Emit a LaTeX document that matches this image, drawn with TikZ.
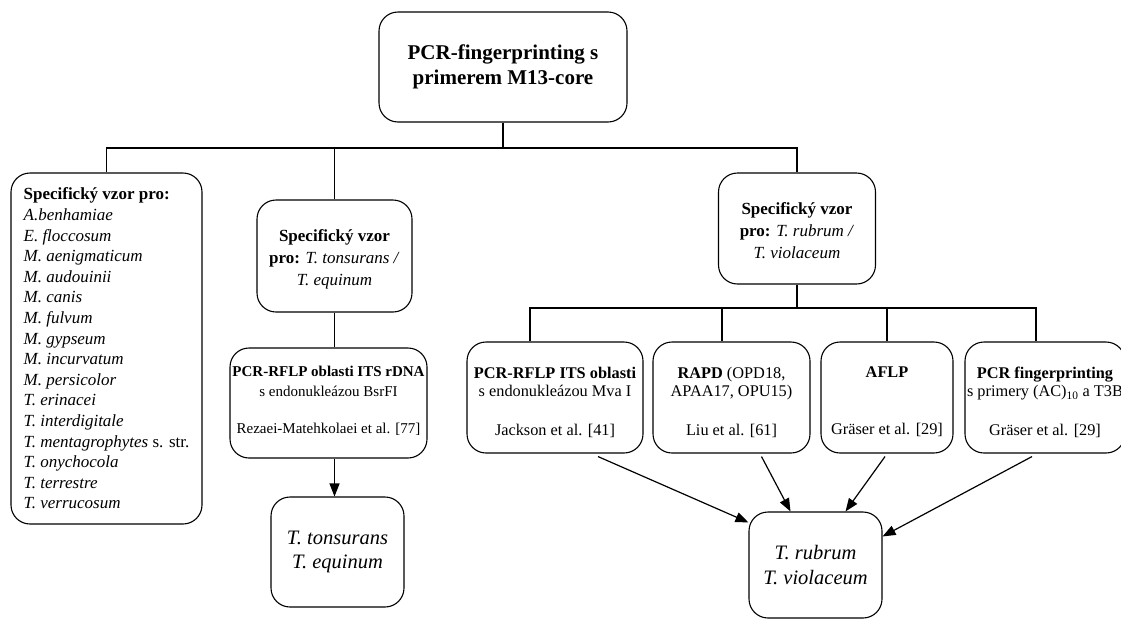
\documentclass[tikz,border=0pt]{standalone}
\usepackage{fontspec}
\setmainfont{Liberation Serif}
\usetikzlibrary{arrows.meta}
\begin{document}
\begin{tikzpicture}[x=1pt,y=-1pt,
  box/.style={draw, line width=1.1pt, rounded corners=19pt, inner sep=0pt, align=center},
  txt/.style={inner sep=0pt, align=center},
  conn/.style={line width=1.2pt},
  arr/.style={line width=1.2pt, -{Triangle[length=13pt,width=10pt]}}]
\useasboundingbox (0,0) rectangle (1121,619);

% top
\node[box, minimum width=248pt, minimum height=110pt, font=\fontsize{21}{25}\selectfont\bfseries] (top) at (503,67) {PCR-fingerprinting s\\primerem M13-core};

% left list
\node[box, minimum width=191pt, minimum height=351pt, align=left, font=\fontsize{17}{20.6}\selectfont] (left) at (106.5,348.5)
{\textbf{Specifický vzor pro:}\\
\textit{A.benhamiae}\\
\textit{E. floccosum}\\
\textit{M. aenigmaticum}\\
\textit{M. audouinii}\\
\textit{M. canis}\\
\textit{M. fulvum}\\
\textit{M. gypseum}\\
\textit{M. incurvatum}\\
\textit{M. persicolor}\\
\textit{T. erinacei}\\
\textit{T. interdigitale}\\
\textit{T. mentagrophytes} s. str.\\
\textit{T. onychocola}\\
\textit{T. terrestre}\\
\textit{T. verrucosum}};

% middle branch
\node[box, minimum width=155pt, minimum height=112pt] (mspec) at (334.5,256) {};
\node[txt, font=\fontsize{17}{22}\selectfont] (mspect) at (334.5,259)
{\textbf{Specifický vzor}\\\textbf{pro:} \textit{T. tonsurans /}\\\textit{T. equinum}};
\node[box, minimum width=197pt, minimum height=110pt] (mrflp) at (328.5,403) {};
\node[txt, anchor=north, font=\fontsize{15}{20}\selectfont] (mrflpt) at (328.5,366)
{\textbf{PCR-RFLP oblasti ITS rDNA}\\s endonukleázou BsrFI\\[17pt]Rezaei-Matehkolaei et al. [77]};
\node[box, minimum width=133pt, minimum height=110pt, font=\fontsize{20.5}{24}\selectfont\itshape] (tons) at (337.5,552)
{T. tonsurans\\T. equinum};

% right branch
\node[box, minimum width=157pt, minimum height=111pt] (rspec) at (797,228.5) {};
\node[txt, font=\fontsize{17}{22}\selectfont] (rspect) at (797,231)
{\textbf{Specifický vzor}\\\textbf{pro:} \textit{T. rubrum /}\\\textit{T. violaceum}};

\node[box, minimum width=176pt, minimum height=111pt] (b1) at (555,397.5) {};
\node[box, minimum width=157pt, minimum height=111pt] (b2) at (731.5,397.5) {};
\node[box, minimum width=132pt, minimum height=111pt] (b3) at (887,397.5) {};
\node[box, minimum width=160pt, minimum height=111pt] (b4) at (1045,397.5) {};

\node[txt, anchor=north, font=\fontsize{16.3}{18}\selectfont] (b1t) at (555,367)
{\textbf{PCR-RFLP ITS oblasti}\\s endonukleázou Mva I\\[21pt]Jackson et al. [41]};
\node[txt, anchor=north, font=\fontsize{16.3}{18}\selectfont] (b2t) at (731.5,367)
{\textbf{RAPD} (OPD18,\\APAA17, OPU15)\\[21pt]Liu et al. [61]};
\node[txt, anchor=north, font=\fontsize{16.3}{18}\selectfont] (b3t) at (887,367)
{\textbf{AFLP}\\[39pt]Gräser et al. [29]};
\node[txt, anchor=north, font=\fontsize{16.3}{18}\selectfont] (b4t) at (1045,367)
{\textbf{PCR fingerprinting}\\s primery (AC)\textsubscript{10} a T3B\\[21pt]Gräser et al. [29]};

\node[box, minimum width=133pt, minimum height=106pt, font=\fontsize{20.5}{25}\selectfont\itshape] (rubrum) at (815.5,565)
{T. rubrum\\T. violaceum};

% connectors
\coordinate (bus1) at (503,148);
\draw[conn] (top.south) -- (bus1);
\draw[conn] (left.north) |- (bus1) -| (rspec.north);
\draw[conn] (mspec.north) -- (mspec.north |- bus1);
\draw[conn] (mspec.south) -- (mspec.south |- mrflp.north);
\draw[arr] (mspec.south |- mrflp.south) -- (mspec.south |- tons.north);

\coordinate (bus2) at (797,308);
\draw[conn] (rspec.south) -- (bus2);
\draw[conn] ([xshift=-25pt]b1.north) |- (bus2) -| ([xshift=-9pt]b4.north);
\draw[conn] ([xshift=-9.5pt]b2.north) -- ([xshift=-9.5pt]b2.north |- bus2);
\draw[conn] (b3.north) -- (b3.north |- bus2);

\draw[arr] ([xshift=43pt,yshift=-3pt]b1.south) -- ([yshift=-11pt]rubrum.north west);
\draw[arr] ([xshift=30pt,yshift=-3pt]b2.south) -- ([xshift=-25pt]rubrum.north);
\draw[arr] ([xshift=-2pt,yshift=-3pt]b3.south) -- ([xshift=30pt]rubrum.north);
\draw[arr] ([xshift=-13pt,yshift=-3pt]b4.south) -- ([yshift=-25pt]rubrum.north east);
\end{tikzpicture}
\end{document}
